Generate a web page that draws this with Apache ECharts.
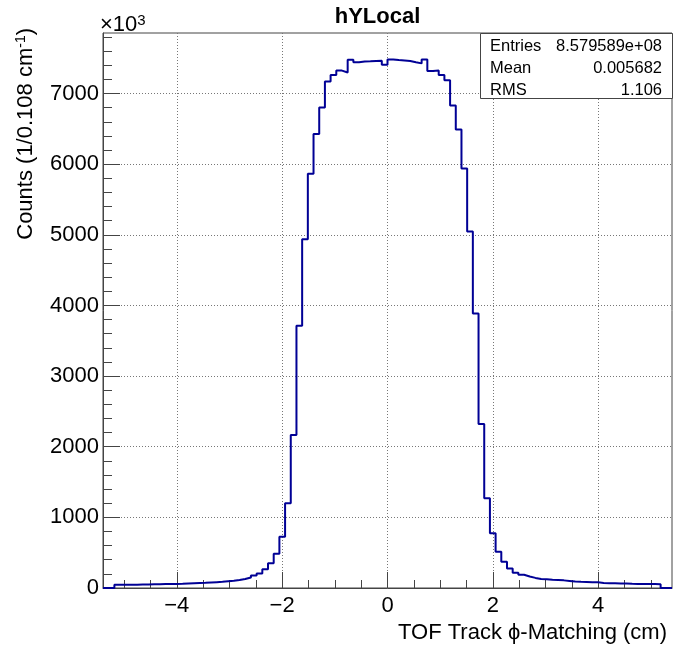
<!DOCTYPE html>
<html>
<head>
<meta charset="utf-8">
<script src="https://cdn.jsdelivr.net/npm/echarts@6/dist/echarts.min.js"></script>
<style>
html,body{margin:0;padding:0;background:#fff;}
#chart{width:675px;height:652px;}
</style>
</head>
<body>
<div id="chart"></div>
<script>
// Histogram definition (100 bins, -5.4 .. 5.4, width 0.108)
const xMin = -5.4;
const xMax = 5.4;
const binWidth = 0.108;
const counts = [
  0, 0, 45, 46, 47, 47, 48, 49, 53, 54,
  55, 56, 57, 59, 64, 67, 70, 73, 78, 83,
  88, 96, 103, 114, 127, 148, 177, 207, 265, 352,
  485, 725, 1200, 2167, 3711, 4939, 5864, 6426, 6803, 7172,
  7262, 7325, 7299, 7479, 7444, 7455, 7457, 7462, 7464, 7408,
  7483, 7474, 7469, 7462, 7444, 7427, 7481, 7318, 7327, 7262,
  7190, 6832, 6492, 5940, 5047, 3886, 2323, 1270, 775, 514,
  370, 276, 217, 187, 163, 143, 128, 124, 116, 112,
  108, 100, 92, 88, 86, 83, 80, 72, 69, 67,
  65, 63, 60, 58, 57, 56, 55, 54, 0, 0
];
const xMajorTicks = [-4, -2, 0, 2, 4];
const xMinorTicks = [-5, -4.5, -3.5, -3, -2.5, -1.5, -1, -0.5, 0.5, 1, 1.5, 2.5, 3, 3.5, 4.5, 5];
const yMajorTicks = [0, 1000, 2000, 3000, 4000, 5000, 6000, 7000];
const yMinorTicks = [200, 400, 600, 800, 1200, 1400, 1600, 1800, 2200, 2400, 2600, 2800,
  3200, 3400, 3600, 3800, 4200, 4400, 4600, 4800, 5200, 5400, 5600, 5800,
  6200, 6400, 6600, 6800, 7200, 7400, 7600, 7800];
const titleText = 'hYLocal';
const xTitle = 'TOF Track \u03D5-Matching (cm)';
const stats = [['Entries', '8.579589e+08'], ['Mean', '0.005682'], ['RMS', '1.106']];

const yMax = Math.max.apply(null, counts) * 1.05;
const histData = counts.map((v, i) => [xMin + i * binWidth, v]);
histData.push([xMax, counts[counts.length - 1]]);

const FONT = 'Liberation Sans, Arial, Helvetica, sans-serif';
const frameColor = '#444';
const gridLine = {show: true, lineStyle: {color: '#777', width: 1, type: [1, 2]}};
const minus = v => String(v).replace('-', '\u2212');

const chart = echarts.init(document.getElementById('chart'), null, {renderer: 'canvas'});

const statGraphics = [];
stats.forEach((row, k) => {
  const yy = 46.5 + k * 21.8;
  statGraphics.push({type: 'text', x: 490, y: yy, z: 101,
    style: {text: row[0], fontSize: 16.5, fontFamily: FONT, fill: '#000', align: 'left', verticalAlign: 'middle'}});
  statGraphics.push({type: 'text', x: 662, y: yy, z: 101,
    style: {text: row[1], fontSize: 16.5, fontFamily: FONT, fill: '#000', align: 'right', verticalAlign: 'middle'}});
});

chart.setOption({
  animation: false,
  backgroundColor: '#fff',
  grid: {left: 103, right: 3, top: 33, bottom: 64, show: true, borderColor: frameColor, borderWidth: 1, backgroundColor: 'transparent'},
  xAxis: [
    {
      type: 'value', min: xMin, max: xMax, position: 'bottom',
      axisLine: {show: true, onZero: false, lineStyle: {color: frameColor, width: 1}},
      axisTick: {show: true, inside: true, length: 16, customValues: xMajorTicks, lineStyle: {color: frameColor}},
      axisLabel: {show: true, customValues: xMajorTicks, formatter: minus, fontSize: 22, fontFamily: FONT, color: '#000', margin: 7},
      splitLine: gridLine
    },
    {
      type: 'value', min: xMin, max: xMax, position: 'bottom',
      axisLine: {show: false, onZero: false},
      axisTick: {show: true, inside: true, length: 8, customValues: xMinorTicks, lineStyle: {color: frameColor}},
      axisLabel: {show: false},
      splitLine: {show: false}
    }
  ],
  yAxis: [
    {
      type: 'value', min: 0, max: yMax, position: 'left',
      axisLine: {show: true, onZero: false, lineStyle: {color: frameColor, width: 1}},
      axisTick: {show: true, inside: true, length: 17, customValues: yMajorTicks, lineStyle: {color: frameColor}},
      axisLabel: {show: true, customValues: yMajorTicks, formatter: v => String(v), fontSize: 22, fontFamily: FONT, color: '#000', margin: 4},
      splitLine: gridLine
    },
    {
      type: 'value', min: 0, max: yMax, position: 'left',
      axisLine: {show: false, onZero: false},
      axisTick: {show: true, inside: true, length: 9, customValues: yMinorTicks, lineStyle: {color: frameColor}},
      axisLabel: {show: false},
      splitLine: {show: false}
    }
  ],
  series: [{
    type: 'line', step: 'end', data: histData, showSymbol: false, symbol: 'none',
    xAxisIndex: 0, yAxisIndex: 0,
    lineStyle: {color: '#000095', width: 2},
    z: 5
  }],
  graphic: [
    {type: 'text', x: 377.5, y: 17, z: 100,
      style: {text: titleText, fontSize: 22, fontWeight: 'bold', fontFamily: FONT, fill: '#000', align: 'center', verticalAlign: 'middle'}},
    {type: 'text', x: 100, y: 25, z: 100,
      style: {text: '\u00D710{sup|3}', fontSize: 22, fontFamily: FONT, fill: '#000', align: 'left', verticalAlign: 'middle',
        rich: {sup: {fontSize: 15, fontFamily: FONT, verticalAlign: 'top', padding: [0, 0, 9, 0]}}}},
    {type: 'text', x: 26, y: 28, rotation: Math.PI / 2, z: 100,
      style: {text: 'Counts (1/0.108 cm{sup|-1})', fontSize: 22, fontFamily: FONT, fill: '#000', align: 'right', verticalAlign: 'middle',
        rich: {sup: {fontSize: 14, fontFamily: FONT, verticalAlign: 'top', padding: [0, 0, 9, 0]}}}},
    {type: 'text', x: 667, y: 633, z: 100,
      style: {text: xTitle, fontSize: 22, fontFamily: FONT, fill: '#000', align: 'right', verticalAlign: 'middle'}},
    {type: 'rect', z: 100, shape: {x: 480.5, y: 33.5, width: 192, height: 65},
      style: {fill: '#fff', stroke: frameColor, lineWidth: 1}}
  ].concat(statGraphics)
});
</script>
</body>
</html>
